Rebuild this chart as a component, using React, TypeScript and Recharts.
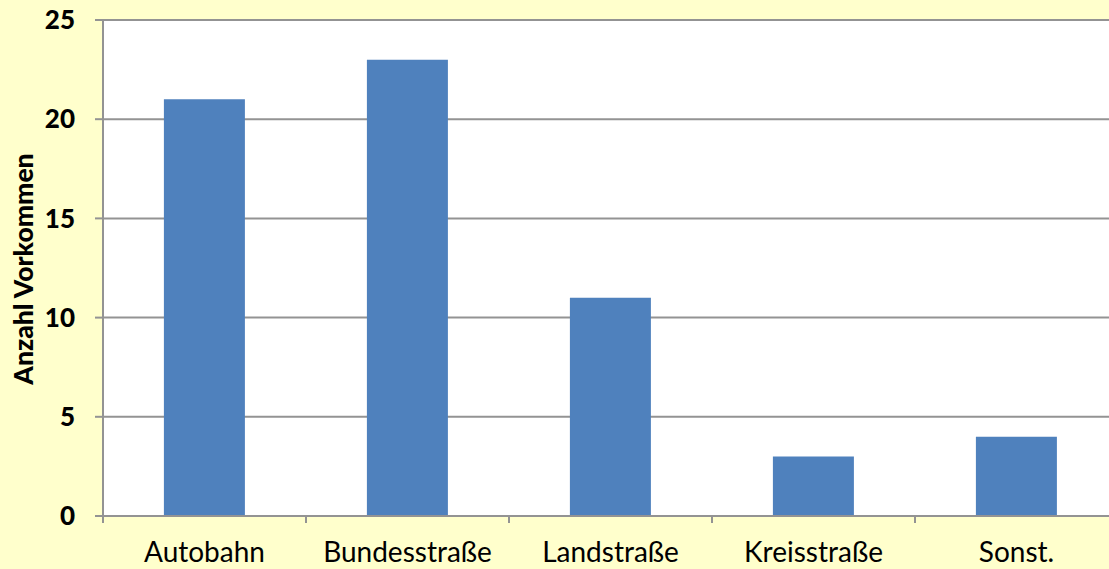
import {Bar, BarChart, CartesianGrid, XAxis, YAxis, Label} from "recharts";

const categories = ["Autobahn", "Bundesstraße", "Landstraße", "Kreisstraße", "Sonst."];
const counts = [21, 23, 11, 3, 4];
const yTicks = [0, 5, 10, 15, 20, 25];

const data = categories.map((name, i) => ({name, anzahl: counts[i]}));

const CHART_W = 1125;
const CHART_H = 569;
const Y_AXIS_W = 103;
const MARGIN_RIGHT = 7;
const BAND = (CHART_W - Y_AXIS_W - MARGIN_RIGHT) / categories.length;
const GRID = "#939393";
const FONT = "Lato, 'Open Sans', sans-serif";

// Excel-Stil: Teilstriche zwischen den Kategorien, Beschriftung in der Mitte
function CategoryTick(props: any) {
  const {x, y, payload, index} = props;
  const half = payload && payload.offset > 0 ? payload.offset : BAND / 2;
  const last = index === categories.length - 1;
  return (
    <g>
      <line x1={x - half} y1={y} x2={x - half} y2={y + 7} stroke={GRID} strokeWidth={2}/>
      {last && <line x1={x + half} y1={y} x2={x + half} y2={y + 7} stroke={GRID} strokeWidth={2}/>}
      <text x={x} y={y + 46} textAnchor="middle" fill="#000" fontSize={28} fontFamily={FONT}>
        {payload.value}
      </text>
    </g>
  );
}

export default function App() {
  return (
    <div style={{position: "fixed", left: 0, top: 0, width: 1109, height: 569, overflow: "hidden", background: "#FFFFCC"}}>
      <BarChart
        width={CHART_W}
        height={CHART_H}
        data={data}
        margin={{top: 20, right: MARGIN_RIGHT, bottom: 0, left: 0}}
        barCategoryGap="30%"
      >
        <CartesianGrid vertical={false} stroke={GRID} strokeWidth={2} fill="#ffffff" fillOpacity={1}/>
        <XAxis
          dataKey="name"
          height={53}
          tickLine={false}
          tickSize={0}
          tickMargin={0}
          axisLine={{stroke: GRID, strokeWidth: 2}}
          tick={<CategoryTick/>}
          interval={0}
        />
        <YAxis
          width={Y_AXIS_W}
          domain={[0, 25]}
          ticks={yTicks}
          interval={0}
          tickSize={8}
          tickMargin={20}
          tickLine={{stroke: GRID, strokeWidth: 2}}
          axisLine={{stroke: GRID, strokeWidth: 2}}
          tick={{fill: "#000", fontSize: 26, fontWeight: 900, fontFamily: FONT}}
        >
          <Label
            content={() => (
              <text
                x={33}
                y={269}
                transform="rotate(-90 33 269)"
                textAnchor="middle"
                fill="#000"
                fontSize={26.5}
                fontWeight={900}
                fontFamily={FONT}
              >
                Anzahl Vorkommen
              </text>
            )}
          />
        </YAxis>
        <Bar dataKey="anzahl" fill="#4F81BD" isAnimationActive={false}/>
      </BarChart>
    </div>
  );
}
